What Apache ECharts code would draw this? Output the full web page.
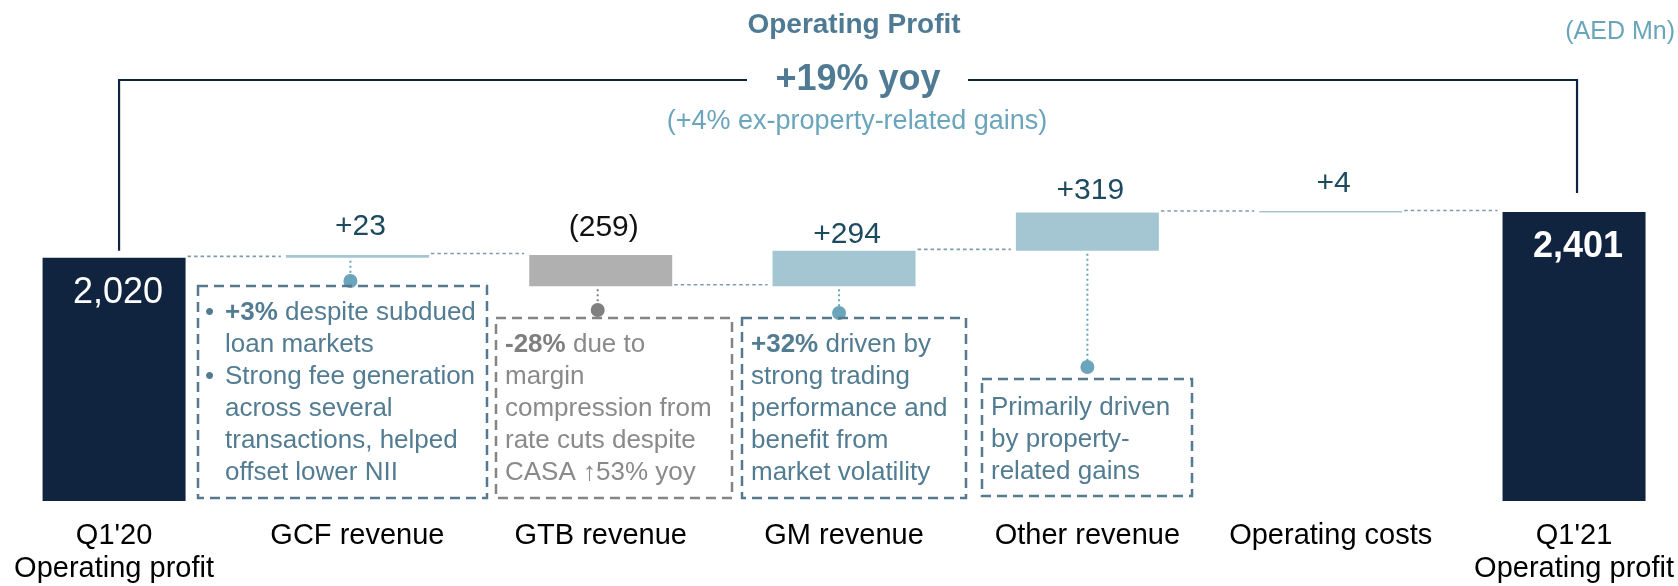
<!DOCTYPE html>
<html>
<head>
<meta charset="utf-8">
<script src="https://cdn.jsdelivr.net/npm/echarts@6/dist/echarts.min.js"></script>
<style>
  html, body { margin: 0; padding: 0; background: #fff; }
  #chart { width: 1678px; height: 586px; }
</style>
</head>
<body>
<div id="chart"></div>
<script>
// waterfall: Q1'20 -> Q1'21 operating profit (AED Mn)
const categories = ["Q1'20\nOperating profit", 'GCF revenue', 'GTB revenue', 'GM revenue', 'Other revenue', 'Operating costs', "Q1'21\nOperating profit"];
const changes = [2020, 23, -259, 294, 319, 4, 2401];
const isTotal = [true, false, false, false, false, false, true];
const valueLabels = ['2,020', '+23', '(259)', '+294', '+319', '+4', '2,401'];

const FONT = "'Liberation Sans', Arial, sans-serif";
const NAVY = '#10233f';
const BLUE = '#a3c6d2';
const GREY = '#b0b0b0';
const TEAL = '#6aa5bb';
const SLATE = '#527c92';
const BAR_W = 143;

// running totals -> invisible base + visible piece
let run = 0;
const baseVals = [], barVals = [], levels = [];
changes.forEach((v, i) => {
  if (isTotal[i]) {
    baseVals.push(0); barVals.push(v); run = v;
  } else {
    const next = run + v;
    baseVals.push(Math.min(run, next));
    barVals.push(Math.abs(v));
    run = next;
  }
  levels.push(run);
});

// label gap above each delta bar (px), as placed on the slide
const labelGap = [0, 13, 12, 1, 7, 12, 0];

const barData = barVals.map((v, i) => {
  let label;
  if (isTotal[i]) {
    label = {
      show: true, position: 'insideTop', distance: 17, offset: [4, 0],
      formatter: valueLabels[i], color: '#fff', fontFamily: FONT,
      fontSize: 36, lineHeight: 36, fontWeight: i === 0 ? 'normal' : 'bold'
    };
  } else {
    label = {
      show: true, position: 'top', distance: labelGap[i], offset: [3, 0],
      formatter: valueLabels[i], fontFamily: FONT, fontSize: 30, lineHeight: 30,
      color: changes[i] < 0 ? '#111' : '#1d4a5e'
    };
  }
  const color = isTotal[i] ? NAVY : (changes[i] < 0 ? GREY : BLUE);
  return { value: v, itemStyle: { color: color }, label: label };
});

const connectors = [];
for (let i = 0; i < categories.length - 1; i++) connectors.push([i, levels[i], i + 1]);

// annotation stems: category, bottom of bar
const notes = [1, 2, 3, 4].map(i => [i, baseVals[i]]);
const noteDotY = { 1: 281, 2: 310, 3: 313, 4: 367 };
const noteDotDx = { 1: -7, 2: -3, 3: -5, 4: 0 };
const noteColor = { 1: TEAL, 2: '#808080', 3: TEAL, 4: TEAL };

const chart = echarts.init(document.getElementById('chart'));

function box(x, y, w, h, stroke) {
  return {
    type: 'rect', shape: { x: x, y: y, width: w, height: h }, z: 5,
    style: { fill: 'none', stroke: stroke, lineWidth: 2.5, lineDash: [10, 6] }
  };
}
function txt(x, y, text, color, rich) {
  return {
    type: 'text', x: x, y: y, z: 6,
    style: {
      text: text, fill: color, fontFamily: FONT, fontSize: 26, lineHeight: 32,
      verticalAlign: 'top', align: 'left', rich: rich || {}
    }
  };
}
const boldBlue = { b: { fontWeight: 'bold', fill: SLATE, fontFamily: FONT, fontSize: 26, lineHeight: 32 } };
const boldGrey = { b: { fontWeight: 'bold', fill: '#7f7f7f', fontFamily: FONT, fontSize: 26, lineHeight: 32 } };

chart.setOption({
  animation: false,
  grid: { left: -7.6, width: 1703.3, top: 19.5, height: 481.5, outerBoundsMode: 'none', containLabel: false },
  xAxis: {
    type: 'category', data: categories,
    axisLine: { show: false }, axisTick: { show: false },
    axisLabel: { interval: 0, margin: 18, color: '#000', fontFamily: FONT, fontSize: 29, lineHeight: 33 }
  },
  yAxis: { type: 'value', min: 0, max: 4000, show: false },
  series: [
    {
      type: 'bar', stack: 'w', barWidth: BAR_W, data: baseVals,
      itemStyle: { color: 'transparent' }, silent: true
    },
    {
      type: 'bar', stack: 'w', barWidth: BAR_W, data: barData, barMinHeight: 1.5
    },
    {
      type: 'custom', z: 1, data: connectors,
      renderItem: (params, api) => {
        const a = api.coord([api.value(0), api.value(1)]);
        const b = api.coord([api.value(2), api.value(1)]);
        return {
          type: 'line',
          shape: { x1: a[0] + BAR_W / 2 + 2, y1: a[1] - 1.5, x2: b[0] - BAR_W / 2 - 5, y2: a[1] - 1.5 },
          style: { stroke: '#7e9cad', lineWidth: 1.6, lineDash: [3.5, 3] }
        };
      }
    },
    {
      type: 'custom', z: 4, data: notes,
      renderItem: (params, api) => {
        const i = api.value(0);
        const p = api.coord([i, api.value(1)]);
        const x = p[0] + noteDotDx[i];
        const dy = noteDotY[i];
        const c = noteColor[i];
        return {
          type: 'group',
          children: [
            { type: 'line', shape: { x1: x, y1: p[1] + 3, x2: x, y2: dy },
              style: { stroke: c, lineWidth: 2, lineDash: [2, 3] } },
            { type: 'circle', shape: { cx: x, cy: dy, r: 7 }, style: { fill: c }, z2: 10 }
          ]
        };
      }
    },
    {
      // yoy bracket from Q1'20 to Q1'21
      type: 'custom', z: 3, data: [[0, changes[0], 6, levels[6]]],
      renderItem: (params, api) => {
        const a = api.coord([api.value(0), api.value(1)]);
        const b = api.coord([api.value(2), api.value(3)]);
        const top = 80;
        const st = { stroke: NAVY, lineWidth: 2.2, fill: 'none' };
        return {
          type: 'group',
          children: [
            { type: 'polyline', shape: { points: [[a[0] + 5, a[1] - 7], [a[0] + 5, top], [747, top]] }, style: st },
            { type: 'polyline', shape: { points: [[968, top], [b[0] + 3, top], [b[0] + 3, b[1] - 19]] }, style: st }
          ]
        };
      }
    }
  ],
  graphic: {
    elements: [
      { type: 'text', x: 854, y: 25, style: { text: 'Operating Profit', fill: '#4f7a93', fontFamily: FONT, fontSize: 28, fontWeight: 'bold', align: 'center', verticalAlign: 'middle' } },
      { type: 'text', x: 858, y: 80, style: { text: '+19% yoy', fill: '#4f7a93', fontFamily: FONT, fontSize: 36, fontWeight: 'bold', align: 'center', verticalAlign: 'middle' } },
      { type: 'text', x: 857, y: 122, style: { text: '(+4% ex-property-related gains)', fill: TEAL, fontFamily: FONT, fontSize: 27, align: 'center', verticalAlign: 'middle' } },
      { type: 'text', x: 1675, y: 32, style: { text: '(AED Mn)', fill: TEAL, fontFamily: FONT, fontSize: 25, align: 'right', verticalAlign: 'middle' } },

      box(198, 286, 289, 212, '#55798e'),
      txt(205, 297, '•\n\n•', SLATE),
      txt(225, 297, '{b|+3%} despite subdued\nloan markets\nStrong fee generation\nacross several\ntransactions, helped\noffset lower NII', SLATE, boldBlue),

      box(496, 318, 236, 180, '#858585'),
      txt(505, 329, '{b|-28%} due to\nmargin\ncompression from\nrate cuts despite\nCASA \u219153% yoy', '#8a8a8a', boldGrey),

      box(742, 318, 224, 180, '#55798e'),
      txt(751, 329, '{b|+32%} driven by\nstrong trading\nperformance and\nbenefit from\nmarket volatility', SLATE, boldBlue),

      box(982, 379, 210, 117, '#55798e'),
      txt(991, 392, 'Primarily driven\nby property-\nrelated gains', SLATE)
    ]
  }
});
</script>
</body>
</html>
